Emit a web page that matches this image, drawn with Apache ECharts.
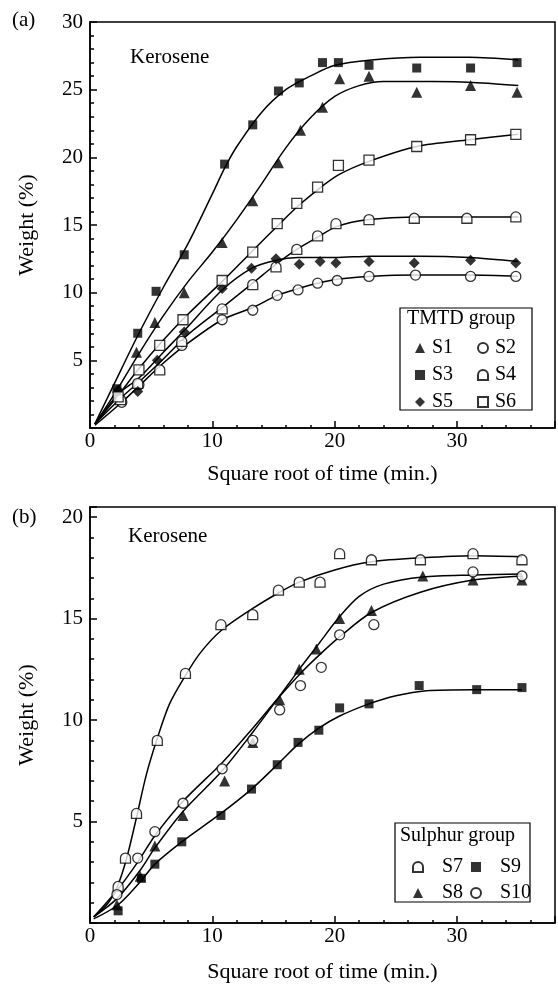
<!DOCTYPE html>
<html>
<head>
<meta charset="utf-8">
<script src="https://cdn.jsdelivr.net/npm/echarts@6/dist/echarts.min.js"></script>
<style>
  html, body { margin: 0; padding: 0; background: #fff; }
  #main { width: 558px; height: 984px; }
</style>
</head>
<body>
<div id="main"></div>
<script>
// (a) TMTD group, measured points  [sqrt(time), weight %]
const s1 = [[2.2,2.6],[3.8,5.6],[5.3,7.8],[7.7,10.0],[10.8,13.7],[13.3,16.8],[15.4,19.6],[17.2,22.0],[19.0,23.7],[20.4,25.8],[22.8,26.0],[26.7,24.8],[31.1,25.3],[34.9,24.8]]
const s2 = [[2.6,1.9],[4.0,3.2],[7.5,6.1],[10.8,8.0],[13.3,8.7],[15.3,9.8],[17.0,10.2],[18.6,10.7],[20.2,10.9],[22.8,11.2],[26.6,11.3],[31.1,11.2],[34.8,11.2]]
const s3 = [[2.2,2.9],[3.9,7.0],[5.4,10.1],[7.7,12.8],[11.0,19.5],[13.3,22.4],[15.4,24.9],[17.1,25.5],[19.0,27.0],[20.3,27.0],[22.8,26.8],[26.7,26.6],[31.1,26.6],[34.9,27.0]]
const s4 = [[2.5,2.1],[3.9,3.3],[5.7,4.3],[7.5,6.4],[10.8,8.8],[13.3,10.6],[15.2,11.9],[16.9,13.2],[18.6,14.2],[20.1,15.1],[22.8,15.4],[26.5,15.5],[30.8,15.5],[34.8,15.6]]
const s5 = [[2.3,2.8],[3.9,2.7],[5.5,5.0],[7.7,7.1],[10.8,10.3],[13.2,11.8],[15.2,12.5],[17.1,12.1],[18.8,12.3],[20.1,12.2],[22.8,12.3],[26.5,12.2],[31.1,12.4],[34.8,12.2]]
const s6 = [[2.3,2.3],[4.0,4.3],[5.7,6.1],[7.6,8.0],[10.8,10.9],[13.3,13.0],[15.3,15.1],[16.9,16.6],[18.6,17.8],[20.3,19.4],[22.8,19.8],[26.7,20.8],[31.1,21.3],[34.8,21.7]]

// (a) fitted curves
const c1 = [[0.4,0.3],[2.2,2.8],[4,5.5],[6,8.3],[8,10.8],[10,13],[12,15.4],[14,18],[16,20.7],[18,22.9],[20,24.5],[22,25.3],[24,25.6],[28,25.6],[32,25.5],[35,25.3]]
const c2 = [[0.4,0.2],[2.6,1.9],[4,3.1],[6,4.8],[7.6,6.0],[10.8,8.0],[13.3,8.9],[15.3,9.8],[17,10.3],[18.6,10.7],[20.2,11.0],[22.8,11.2],[26.6,11.3],[31,11.3],[35,11.2]]
const c3 = [[0.4,0.3],[2,3.3],[4,7],[6,10.4],[8,13.6],[10,17.3],[11,19.2],[12,20.8],[14,23.3],[16,25.0],[18,26.0],[20,26.8],[23,27.2],[27,27.4],[31,27.4],[35,27.2]]
const c4 = [[0.4,0.3],[2.5,2.2],[4,3.4],[6,5.1],[8,6.9],[10.8,8.9],[13.3,10.7],[15.2,12.1],[16.9,13.2],[18.6,14.1],[20.2,14.9],[22.8,15.4],[26.5,15.6],[31,15.6],[35,15.6]]
const c5 = [[0.4,0.3],[2.3,2.5],[4,3.7],[6,5.6],[7.7,7.2],[10.8,10.2],[13.2,11.8],[15.2,12.4],[17,12.6],[20,12.6],[23,12.7],[27,12.7],[31,12.6],[35,12.3]]
const c6 = [[0.4,0.3],[2.3,2.4],[4,4.4],[6,6.5],[8,8.4],[11,11.0],[13.3,13.1],[15.4,15.0],[17,16.4],[18.6,17.6],[20.3,18.7],[22.8,19.7],[26.7,20.8],[31,21.3],[35,21.7]]

// (b) Sulphur group, measured points
const s7 = [[2.3,1.8],[2.9,3.2],[3.8,5.4],[5.5,9.0],[7.8,12.3],[10.7,14.7],[13.3,15.2],[15.4,16.4],[17.1,16.8],[18.8,16.8],[20.4,18.2],[23.0,17.9],[27.0,17.9],[31.3,18.2],[35.3,17.9]]
const s8 = [[2.2,0.9],[4.1,2.3],[5.3,3.8],[7.6,5.3],[11.0,7.0],[13.3,8.9],[15.5,11.0],[17.1,12.5],[18.5,13.5],[20.4,15.0],[23.0,15.4],[27.2,17.1],[31.3,16.9],[35.3,16.9]]
const s9 = [[2.3,0.6],[4.2,2.2],[5.3,2.9],[7.5,4.0],[10.7,5.3],[13.2,6.6],[15.3,7.8],[17.0,8.9],[18.7,9.5],[20.4,10.6],[22.8,10.8],[26.9,11.7],[31.6,11.5],[35.3,11.6]]
const s10 = [[2.2,1.4],[3.9,3.2],[5.3,4.5],[7.6,5.9],[10.8,7.6],[13.3,9.0],[15.5,10.5],[17.2,11.7],[18.9,12.6],[20.4,14.2],[23.2,14.7],[31.3,17.3],[35.3,17.1]]

// (b) fitted curves
const c7 = [[0.3,0.3],[1.5,1.0],[2.3,1.9],[3,3.2],[3.8,5.2],[4.6,7.3],[5.5,9.1],[6.5,10.8],[7.8,12.2],[9,13.3],[10.7,14.4],[13.3,15.5],[15.5,16.3],[17.1,16.8],[20,17.4],[23,17.8],[27.2,18.0],[31.3,18.1],[35.3,18.05]]
const c8 = [[0.3,0.3],[2.2,1.2],[4.1,2.6],[5.3,3.7],[7.6,5.5],[10.8,7.5],[13.3,9.4],[15.4,11.1],[17.1,12.5],[18.5,13.6],[20.4,15.1],[22,16.1],[24,16.7],[27.2,17.05],[31.3,17.15],[35.3,17.2]]
const c9 = [[0.3,0.2],[2.3,0.9],[4.2,2.1],[5.3,2.9],[7.5,4.0],[10.7,5.4],[13.2,6.6],[15.3,7.8],[17,8.8],[18.7,9.6],[20.4,10.2],[22.8,10.8],[25,11.2],[27.5,11.45],[31.3,11.5],[35.3,11.5]]
const c10 = [[0.3,0.3],[2.2,1.6],[3.9,3.0],[5.3,4.3],[7.6,6.0],[10.8,7.9],[13.3,9.6],[15.4,11.1],[17.2,12.3],[18.9,13.3],[20.4,14.1],[23.0,15.3],[27,16.3],[31.3,16.9],[35.3,17.1]]

const xName = 'Square root of time (min.)'
const yName = 'Weight (%)'

let font = 'Liberation Serif'
let black = '#000'
const dome = 'path://M0,10 L0,5 A5,5 0 0 1 10,5 L10,10 Z'

function dots(name, data, symbol, size, open, axis) {
  return {
    name: name,
    type: 'scatter',
    xAxisIndex: axis,
    yAxisIndex: axis,
    symbol: symbol,
    symbolSize: size,
    itemStyle: open
      ? { color: '#fff', borderColor: black, borderWidth: 1.3 }
      : { color: black },
    data: data,
    z: 3
  }
}

function curve(data, axis) {
  return {
    type: 'line',
    xAxisIndex: axis,
    yAxisIndex: axis,
    data: data,
    smooth: 0.3,
    symbol: 'none',
    silent: true,
    lineStyle: { color: black, width: 1.5 },
    z: 2
  }
}

// major axis with labels + a second one only for the small ticks
function xAxes(grid) {
  return [
    {
      gridIndex: grid, type: 'value', min: 0, max: 38, interval: 10, position: 'bottom',
      name: xName, nameLocation: 'middle', nameGap: grid ? 38 : 35,
      nameTextStyle: { fontFamily: font, fontSize: 22, color: black },
      axisLine: { onZero: false, lineStyle: { color: black, width: 1.5 } },
      axisTick: { inside: true, length: 7, lineStyle: { color: black, width: 1.5 } },
      axisLabel: { margin: 3, fontFamily: font, fontSize: 21, color: black,
        formatter: v => (v % 10 ? '' : v) },
      splitLine: { show: false }
    },
    {
      gridIndex: grid, type: 'value', min: 0, max: 38, interval: 2, position: 'bottom',
      axisLine: { show: false },
      axisTick: { inside: true, length: 3, lineStyle: { color: black, width: 1.5 } },
      axisLabel: { show: false },
      splitLine: { show: false }
    }
  ]
}

function yAxes(grid, max) {
  return [
    {
      gridIndex: grid, type: 'value', min: 0, max: max, interval: 5, position: 'left',
      name: yName, nameLocation: 'middle', nameGap: 52, nameRotate: 90,
      nameTextStyle: { fontFamily: font, fontSize: 22, color: black },
      axisLine: { lineStyle: { color: black, width: 1.5 } },
      axisTick: { inside: true, length: 7, lineStyle: { color: black, width: 1.5 } },
      axisLabel: { margin: 7, fontFamily: font, fontSize: 21, color: black,
        formatter: v => (v === 0 || v % 5 ? '' : v) },
      splitLine: { show: false }
    },
    {
      gridIndex: grid, type: 'value', min: 0, max: max, interval: 1, position: 'left',
      axisLine: { show: false },
      axisTick: { inside: true, length: 4, lineStyle: { color: black, width: 1.5 } },
      axisLabel: { show: false },
      splitLine: { show: false }
    }
  ]
}

function legendCol(names, left, top, gap, pad) {
  return {
    data: names,
    orient: 'vertical',
    left: left,
    top: top,
    itemWidth: 10,
    itemHeight: 10,
    itemGap: gap,
    selectedMode: false,
    textStyle: { fontFamily: font, fontSize: 20, color: black, padding: [0, 0, 0, pad] }
  }
}

function label(text, x, y, size) {
  return {
    type: 'text', left: x, top: y,
    style: { text: text, fontFamily: font, fontSize: size, fill: black }
  }
}

// order: 0 major(a), 1 minor(a), 2 major(b), 3 minor(b)
const option = {
  animation: false,
  backgroundColor: '#fff',
  grid: [
    { left: 90, right: 2, top: 22, height: 406, show: true, borderColor: black, borderWidth: 1.5 },
    { left: 90, right: 3, top: 507, height: 419, show: true, borderColor: black, borderWidth: 1.5 }
  ],
  xAxis: [...xAxes(0), ...xAxes(1)],
  yAxis: [...yAxes(0, 30), ...yAxes(1, 20.5)],
  legend: [
    legendCol(['S1', 'S3', 'S5'], 410, 333, 7, 2),
    legendCol(['S2', 'S4', 'S6'], 472, 333, 7, 2),
    legendCol(['S7', 'S8'], 407, 852, 6, 14),
    legendCol(['S9', 'S10'], 465, 852, 6, 14)
  ],
  graphic: [
    label('(a)', 12, 10, 21),
    label('(b)', 12, 507, 21),
    label('Kerosene', 130, 47, 21),
    label('Kerosene', 128, 526, 21),
    { type: 'rect', shape: { x: 400, y: 308, width: 132, height: 102 },
      style: { fill: 'none', stroke: black, lineWidth: 1.2 } },
    label('TMTD group', 407, 309, 20),
    { type: 'rect', shape: { x: 395, y: 823, width: 135, height: 79 },
      style: { fill: 'none', stroke: black, lineWidth: 1.2 } },
    label('Sulphur group', 400, 826, 20)
  ],
  series: [
    curve(c1, 0), curve(c2, 0), curve(c3, 0), curve(c4, 0), curve(c5, 0), curve(c6, 0),
    dots('S1', s1, 'triangle', 11, false, 0),
    dots('S2', s2, 'circle', 10, true, 0),
    dots('S3', s3, 'rect', 9, false, 0),
    dots('S4', s4, dome, 10, true, 0),
    dots('S5', s5, 'diamond', 11, false, 0),
    dots('S6', s6, 'rect', 10, true, 0),
    curve(c7, 2), curve(c8, 2), curve(c9, 2), curve(c10, 2),
    dots('S7', s7, dome, 10, true, 2),
    dots('S8', s8, 'triangle', 11, false, 2),
    dots('S9', s9, 'rect', 9, false, 2),
    dots('S10', s10, 'circle', 10, true, 2)
  ]
}

const chart = echarts.init(document.getElementById('main'))
chart.setOption(option)
</script>
</body>
</html>
